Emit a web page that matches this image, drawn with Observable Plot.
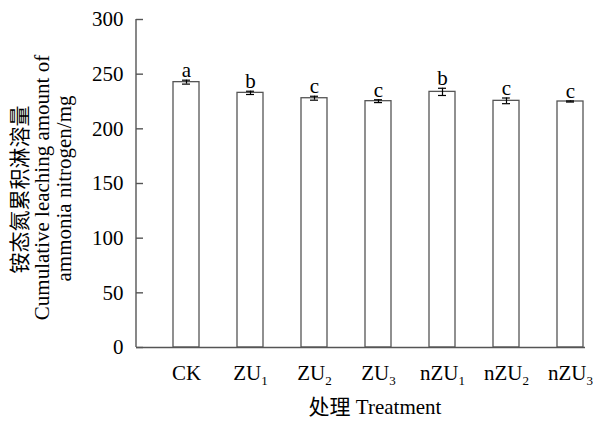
<!DOCTYPE html>
<html>
<head>
<meta charset="utf-8">
<script src="https://cdn.jsdelivr.net/npm/d3@7"></script>
<script src="https://cdn.jsdelivr.net/npm/@observablehq/plot@0.6"></script>
<style>
  html, body { margin: 0; padding: 0; background: #fff; }
  svg { display: block; }
  #chart svg, #chart svg text { font-family: "Liberation Serif", "Noto Sans CJK SC", serif !important; }
</style>
</head>
<body>
<div id="chart"></div>
<script>
const treatments = ["CK", "ZU1", "ZU2", "ZU3", "nZU1", "nZU2", "nZU3"];
const values = [242.7, 232.9, 228.0, 225.3, 233.8, 225.6, 225.0];
const errors = [1.8, 1.5, 1.8, 1.3, 3.3, 2.6, 0.5];
const letters = ["a", "b", "c", "c", "b", "c", "c"];
const yTicks = [0, 50, 100, 150, 200, 250, 300];
const yLabelCN = "铵态氮累积淋溶量";
const yLabelEN1 = "Cumulative leaching amount of";
const yLabelEN2 = "ammonia nitrogen/mg";
const xLabel = "处理 Treatment";

const data = treatments.map((t, i) => ({t, v: values[i], e: errors[i], l: letters[i]}));

const W = 593, H = 424;
const mL = 136, mR = 8, mT = 19, mB = 77;
const serif = "Liberation Serif";

const leftLine = (index, scales, values, dims) => {
  const g = d3.create("svg:g");
  g.append("line")
    .attr("x1", dims.marginLeft).attr("x2", dims.marginLeft)
    .attr("y1", scales.y(300)).attr("y2", scales.y(0))
    .attr("stroke", "#555").attr("stroke-width", 1.4);
  return g.node();
};

const chart = Plot.plot({
  width: W, height: H,
  marginLeft: mL, marginRight: mR, marginTop: mT, marginBottom: mB,
  style: {fontSize: "21px", color: "#000", background: "#fff"},
  x: {domain: treatments, range: [mL, W - mR], paddingInner: 0.6, paddingOuter: 0.265, align: 0.93, axis: null},
  y: {domain: [0, 300], axis: null},
  marks: [
    Plot.barY(data, {x: "t", y: "v", fill: "#fff", stroke: "#555", strokeWidth: 1.3}),
    Plot.ruleX(data, {x: "t", y1: d => d.v - d.e, y2: d => d.v + d.e, stroke: "#000", strokeWidth: 1.2}),
    Plot.tickY(data, {x: "t", y: d => d.v - d.e, stroke: "#000", strokeWidth: 1.2, insetLeft: 9, insetRight: 9}),
    Plot.tickY(data, {x: "t", y: d => d.v + d.e, stroke: "#000", strokeWidth: 1.2, insetLeft: 9, insetRight: 9}),
    Plot.text(data, {x: "t", y: d => d.v + d.e, text: "l", lineAnchor: "bottom", dy: -3, fontSize: 21, fill: "#000", fontFamily: serif}),
    Plot.ruleY([0], {stroke: "#555", strokeWidth: 1.4}),
    leftLine,
    Plot.tickY(yTicks, {y: d => d, stroke: "#555", strokeWidth: 1.4, insetRight: W - mL - mR - 7}),
    Plot.axisY({ticks: yTicks, tickSize: 0, tickPadding: 13, fontSize: 21, fontFamily: serif, label: null}),
    Plot.axisX({tickSize: 0, tickPadding: 18, fontSize: 21, fontFamily: serif, label: null}),
    Plot.text([xLabel], {frameAnchor: "bottom", textAnchor: "middle", dx: 14, dy: 66, fontSize: 21, fill: "#000", fontFamily: serif}),
    Plot.text([yLabelCN], {frameAnchor: "left", textAnchor: "middle", dx: -116, dy: 6, rotate: -90, fontSize: 21, fill: "#000", fontFamily: serif}),
    Plot.text([yLabelEN1], {frameAnchor: "left", textAnchor: "middle", dx: -94, dy: 4, rotate: -90, fontSize: 21, fill: "#000", fontFamily: serif}),
    Plot.text([yLabelEN2], {frameAnchor: "left", textAnchor: "middle", dx: -72, dy: 5, rotate: -90, fontSize: 21, fill: "#000", fontFamily: serif})
  ]
});

// subscript digits in the x tick labels
d3.select(chart).selectAll('g[aria-label="x-axis tick label"] text').each(function() {
  const el = d3.select(this);
  const s = el.text();
  const m = s.match(/^(.*?)(\d+)$/);
  if (m) {
    el.text(null);
    el.append("tspan").text(m[1]);
    el.append("tspan").attr("font-size", 13).attr("dy", 5).text(m[2]);
  }
});

document.getElementById("chart").appendChild(chart);
</script>
</body>
</html>
